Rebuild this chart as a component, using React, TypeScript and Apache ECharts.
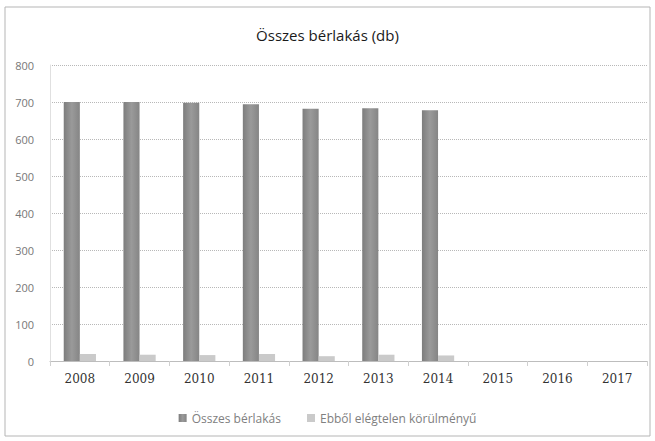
import React, { useEffect, useRef } from "react";
import * as echarts from "echarts";

const years = ["2008", "2009", "2010", "2011", "2012", "2013", "2014", "2015", "2016", "2017"];
const osszes = [700, 700, 698, 694, 682, 683, 678, null, null, null];
const elegtelen = [19, 17, 16, 19, 13, 17, 15, null, null, null];
const yTicks = [0, 100, 200, 300, 400, 500, 600, 700, 800];

export default function App() {
  const ref = useRef<HTMLDivElement>(null);
  useEffect(() => {
    if (!ref.current) return;
    const chart = echarts.init(ref.current, null, { renderer: "svg" });
    chart.setOption({
      animation: false,
      backgroundColor: "#ffffff",
      textStyle: { fontFamily: "Open Sans, DejaVu Sans, sans-serif" },
      title: {
        text: "Összes bérlakás (db)",
        left: "center",
        top: 22,
        textStyle: { fontSize: 15, fontWeight: "normal", color: "#1a1a1a", fontFamily: "Open Sans, sans-serif" },
      },
      graphic: [
        {
          type: "rect",
          shape: { x: 5, y: 7, width: 645, height: 429 },
          style: { fill: "none", stroke: "#b5b5b5", lineWidth: 1 },
          silent: true,
        },
      ],
      legend: {
        bottom: 12,
        left: "center",
        itemWidth: 8,
        itemHeight: 8,
        itemGap: 26,
        icon: "rect",
        textStyle: { fontSize: 12, color: "#808080" },
        data: ["Összes bérlakás", "Ebből elégtelen körülményű"],
      },
      grid: { left: 50, right: 8, top: 65, bottom: 80, containLabel: false },
      xAxis: {
        type: "category",
        data: years,
        axisLine: { lineStyle: { color: "#bdbdbd" } },
        axisTick: { show: true, lineStyle: { color: "#d0d0d0" } },
        axisLabel: { fontSize: 12, color: "#333", margin: 12, fontFamily: "DejaVu Serif, serif" },
      },
      yAxis: {
        type: "value",
        min: yTicks[0],
        max: yTicks[yTicks.length - 1],
        interval: 100,
        axisLine: { show: true, lineStyle: { color: "#e0e0e0" } },
        axisTick: { show: false },
        axisLabel: { fontSize: 11, color: "#777", margin: 16 },
        splitLine: { lineStyle: { color: "#b8b8b8", type: "dotted" } },
      },
      series: [
        {
          name: "Összes bérlakás",
          type: "bar",
          data: osszes,
          barGap: "0%",
          barCategoryGap: "46%",
          itemStyle: {
            color: new echarts.graphic.LinearGradient(0, 0, 1, 0, [
              { offset: 0, color: "#7d7d7d" },
              { offset: 0.5, color: "#9a9a9a" },
              { offset: 1, color: "#858585" },
            ]),
          },
        },
        {
          name: "Ebből elégtelen körülményű",
          type: "bar",
          data: elegtelen,
          itemStyle: { color: "#cacaca" },
        },
      ],
    });
    return () => chart.dispose();
  }, []);
  return (
    <div
      ref={ref}
      style={{ position: "absolute", left: 0, top: 0, width: 655, height: 441 }}
    />
  );
}
